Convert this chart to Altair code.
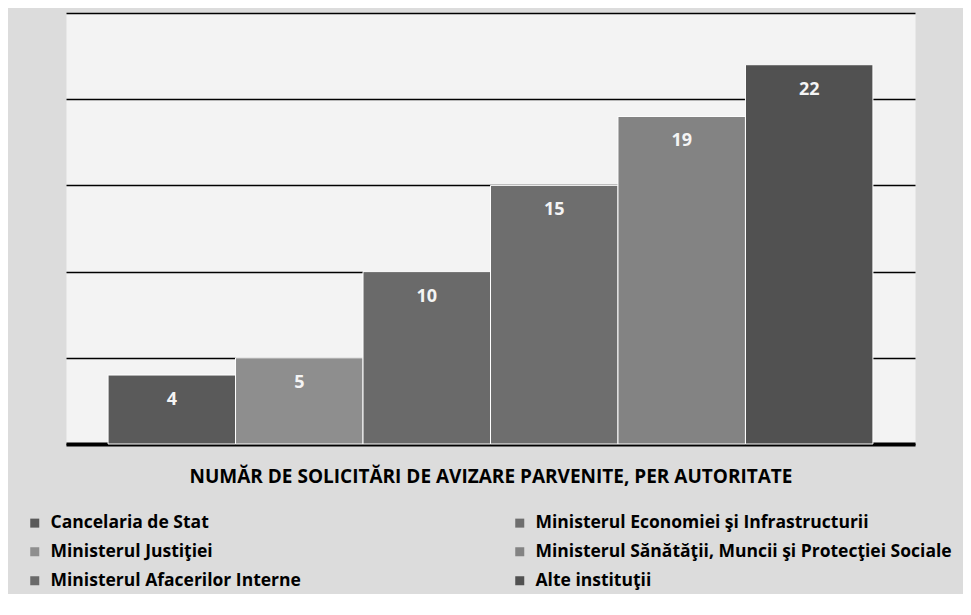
import altair as alt
import pandas as pd

categories = [
    "Cancelaria de Stat",
    "Ministerul Justiţiei",
    "Ministerul Afacerilor Interne",
    "Ministerul Economiei şi Infrastructurii",
    "Ministerul Sănătăţii, Muncii şi Protecţiei Sociale",
    "Alte instituţii",
]
values = [4, 5, 10, 15, 19, 22]
colors = ["#5a5a5a", "#8e8e8e", "#6a6a6a", "#6e6e6e", "#838383", "#515151"]
y_ticks = [0, 5, 10, 15, 20, 25]
title_text = "NUMĂR DE SOLICITĂRI DE AVIZARE PARVENITE, PER AUTORITATE"

df = pd.DataFrame({"cat": categories, "val": values})

FONT = "Open Sans"

x = alt.X(
    "cat:N",
    sort=categories,
    scale=alt.Scale(paddingInner=0, paddingOuter=0.33),
    axis=alt.Axis(
        labels=False,
        ticks=False,
        title=title_text,
        titleFont=FONT,
        titleFontSize=19,
        titleFontWeight="bold",
        titleColor="black",
        titlePadding=23,
        domainColor="black",
        domainWidth=4,
    ),
)
y = alt.Y(
    "val:Q",
    scale=alt.Scale(domain=[0, 25], nice=False),
    axis=alt.Axis(
        values=y_ticks,
        labels=False,
        ticks=False,
        domain=False,
        title=None,
        gridColor="black",
        gridWidth=1.5,
    ),
)

bars = alt.Chart(df).mark_bar(stroke="white", strokeWidth=1).encode(
    x=x,
    y=y,
    color=alt.Color(
        "cat:N",
        sort=categories,
        scale=alt.Scale(domain=categories, range=colors),
        legend=alt.Legend(
            orient="none",
            legendX=-40,
            legendY=501,
            columns=2,
            columnPadding=210,
            rowPadding=10,
            padding=0,
            title=None,
            symbolType="square",
            symbolSize=81,
            symbolStrokeWidth=0,
            symbolOpacity=1,
            labelFont=FONT,
            labelFontSize=17.5,
            labelFontWeight="bold",
            labelColor="black",
            labelLimit=600,
            labelOffset=7,
        ),
    ),
)

labels = alt.Chart(df).mark_text(
    color="#f4f4f4", font=FONT, fontSize=18, fontWeight="bold", baseline="middle", dy=25
).encode(x=alt.X("cat:N", sort=categories), y="val:Q", text="val:Q")

chart = (
    alt.layer(bars, labels)
    .properties(
        width=849,
        height=431,
        autosize=alt.AutoSizeParams(type="none"),
        padding={"left": 58, "top": 5, "right": 48, "bottom": 150},
    )
    .configure(background="#dcdcdc")
    .configure_view(fill="#f3f3f3", stroke="transparent")
)

chart.save("out.html", embed_options={"renderer": "svg", "actions": False})
